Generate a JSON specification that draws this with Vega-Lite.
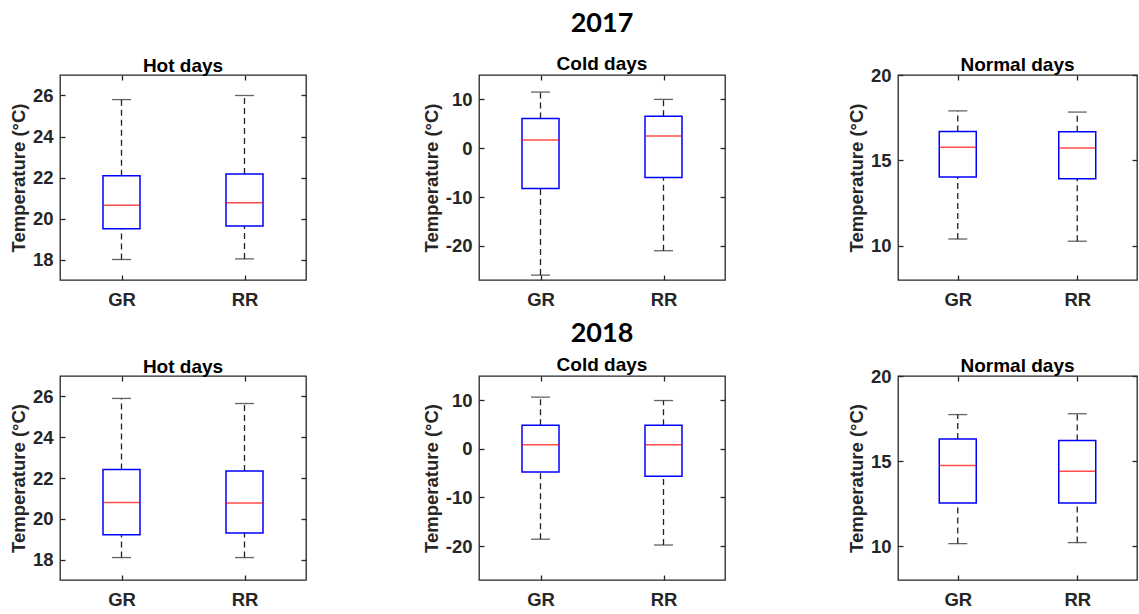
{
  "$schema": "https://vega.github.io/schema/vega-lite/v6.json",
  "padding": {"left": 8, "top": 9, "right": 0, "bottom": 0},
  "background": "white",
  "datasets": {
    "box": [
      {"year": "2017", "cat": "Hot days", "site": "GR", "lo": 18.0, "q1": 19.5, "med": 20.65, "q3": 22.08, "hi": 25.8},
      {"year": "2017", "cat": "Hot days", "site": "RR", "lo": 18.03, "q1": 19.63, "med": 20.77, "q3": 22.17, "hi": 26.0},
      {"year": "2017", "cat": "Cold days", "site": "GR", "lo": -26.0, "q1": -8.25, "med": 1.7, "q3": 6.1, "hi": 11.5},
      {"year": "2017", "cat": "Cold days", "site": "RR", "lo": -21.0, "q1": -6.0, "med": 2.5, "q3": 6.55, "hi": 10.0},
      {"year": "2017", "cat": "Normal days", "site": "GR", "lo": 10.4, "q1": 14.03, "med": 15.77, "q3": 16.7, "hi": 17.9},
      {"year": "2017", "cat": "Normal days", "site": "RR", "lo": 10.27, "q1": 13.93, "med": 15.72, "q3": 16.68, "hi": 17.83},
      {"year": "2018", "cat": "Hot days", "site": "GR", "lo": 18.1, "q1": 19.22, "med": 20.8, "q3": 22.42, "hi": 25.9},
      {"year": "2018", "cat": "Hot days", "site": "RR", "lo": 18.1, "q1": 19.3, "med": 20.77, "q3": 22.34, "hi": 25.65},
      {"year": "2018", "cat": "Cold days", "site": "GR", "lo": -18.6, "q1": -4.75, "med": 0.85, "q3": 4.85, "hi": 10.65},
      {"year": "2018", "cat": "Cold days", "site": "RR", "lo": -19.8, "q1": -5.65, "med": 0.85, "q3": 4.85, "hi": 9.95},
      {"year": "2018", "cat": "Normal days", "site": "GR", "lo": 10.14, "q1": 12.53, "med": 14.74, "q3": 16.3, "hi": 17.73},
      {"year": "2018", "cat": "Normal days", "site": "RR", "lo": 10.2, "q1": 12.53, "med": 14.4, "q3": 16.2, "hi": 17.78}
    ]
  },
  "config": {
    "view": {"stroke": "#262626", "strokeWidth": 1.3},
    "axis": {
      "domain": false, "grid": false, "tickSize": -5, "tickColor": "#262626", "tickWidth": 1.3,
      "labelFont": "Liberation Sans", "labelFontSize": 18.5, "labelFontWeight": "bold", "labelColor": "#262626", "labelPadding": 12,
      "titleFont": "Liberation Sans", "titleFontSize": 18.5, "titleFontWeight": "bold", "titleColor": "#262626", "titlePadding": 4
    },
    "axisX": {"labelPadding": 15},
    "title": {"font": "Liberation Sans", "fontSize": 19, "fontWeight": "bold", "color": "#000000", "offset": -1.5, "anchor": "middle"}
  },
  "spacing": 9,
  "vconcat": [
    {
      "bounds": "flush",
      "spacing": 173,
      "hconcat": [
        {
          "width": 246, "height": 205,
          "data": {"name": "box"},
          "transform": [{"filter": "datum.year == '2017' && datum.cat == 'Hot days'"}],
          "title": {"text": "Hot days"},
          "encoding": {"x": {"field": "site", "type": "nominal", "scale": {"type": "point", "domain": ["GR", "RR"], "padding": 0.5}, "axis": null}},
          "layer": [
            {"mark": {"type": "rule", "strokeDash": [6, 4], "strokeWidth": 1.3, "color": "#222222"}, "encoding": {"y": {"field": "q3", "type": "quantitative", "scale": {"domain": [17, 27], "nice": false, "zero": false}, "axis": null}, "y2": {"field": "hi"}}},
            {"mark": {"type": "rule", "strokeDash": [6, 4], "strokeWidth": 1.3, "color": "#222222"}, "encoding": {"y": {"field": "lo", "type": "quantitative", "axis": null}, "y2": {"field": "q1"}}},
            {"mark": {"type": "tick", "size": 19, "thickness": 1.3, "color": "#222222"}, "encoding": {"y": {"field": "hi", "type": "quantitative", "axis": null}}},
            {"mark": {"type": "tick", "size": 19, "thickness": 1.3, "color": "#222222"}, "encoding": {"y": {"field": "lo", "type": "quantitative", "axis": null}}},
            {"mark": {"type": "bar", "size": 37, "fill": "transparent", "stroke": "#0000FF", "strokeWidth": 1.5}, "encoding": {
              "x": {"field": "site", "type": "nominal", "axis": {"title": null, "labelAngle": 0, "orient": "bottom"}},
              "y": {"field": "q1", "type": "quantitative", "axis": {"title": "Temperature (°C)", "values": [18, 20, 22, 24, 26], "orient": "left"}}, "y2": {"field": "q3"}}},
            {"mark": {"type": "tick", "size": 37, "thickness": 1.5, "color": "#FF0000"}, "encoding": {
              "x": {"field": "site", "type": "nominal", "axis": {"title": null, "labels": false, "orient": "top"}},
              "y": {"field": "med", "type": "quantitative", "axis": {"title": null, "labels": false, "values": [18, 20, 22, 24, 26], "orient": "right"}}}}
          ],
          "resolve": {"axis": {"x": "independent", "y": "independent"}}
        },
        {
          "width": 246, "height": 205,
          "data": {"name": "box"},
          "transform": [{"filter": "datum.year == '2017' && datum.cat == 'Cold days'"}],
          "title": {"text": "2017", "subtitle": "Cold days", "offset": -1, "font": "Lato", "fontSize": 27, "fontWeight": "bold", "subtitleFont": "Liberation Sans", "subtitleFontSize": 19, "subtitleFontWeight": "bold", "subtitleColor": "#000000", "subtitlePadding": 17},
          "encoding": {"x": {"field": "site", "type": "nominal", "scale": {"type": "point", "domain": ["GR", "RR"], "padding": 0.5}, "axis": null}},
          "layer": [
            {"mark": {"type": "rule", "strokeDash": [6, 4], "strokeWidth": 1.3, "color": "#222222"}, "encoding": {"y": {"field": "q3", "type": "quantitative", "scale": {"domain": [-27, 15], "nice": false, "zero": false}, "axis": null}, "y2": {"field": "hi"}}},
            {"mark": {"type": "rule", "strokeDash": [6, 4], "strokeWidth": 1.3, "color": "#222222"}, "encoding": {"y": {"field": "lo", "type": "quantitative", "axis": null}, "y2": {"field": "q1"}}},
            {"mark": {"type": "tick", "size": 19, "thickness": 1.3, "color": "#222222"}, "encoding": {"y": {"field": "hi", "type": "quantitative", "axis": null}}},
            {"mark": {"type": "tick", "size": 19, "thickness": 1.3, "color": "#222222"}, "encoding": {"y": {"field": "lo", "type": "quantitative", "axis": null}}},
            {"mark": {"type": "bar", "size": 37, "fill": "transparent", "stroke": "#0000FF", "strokeWidth": 1.5}, "encoding": {
              "x": {"field": "site", "type": "nominal", "axis": {"title": null, "labelAngle": 0, "orient": "bottom"}},
              "y": {"field": "q1", "type": "quantitative", "axis": {"title": "Temperature (°C)", "values": [-20, -10, 0, 10], "orient": "left", "labelExpr": "replace(datum.label, '−', '-')"}}, "y2": {"field": "q3"}}},
            {"mark": {"type": "tick", "size": 37, "thickness": 1.5, "color": "#FF0000"}, "encoding": {
              "x": {"field": "site", "type": "nominal", "axis": {"title": null, "labels": false, "orient": "top"}},
              "y": {"field": "med", "type": "quantitative", "axis": {"title": null, "labels": false, "values": [-20, -10, 0, 10], "orient": "right"}}}}
          ],
          "resolve": {"axis": {"x": "independent", "y": "independent"}}
        },
        {
          "width": 239, "height": 205,
          "data": {"name": "box"},
          "transform": [{"filter": "datum.year == '2017' && datum.cat == 'Normal days'"}],
          "title": {"text": "Normal days", "offset": -8.5},
          "encoding": {"x": {"field": "site", "type": "nominal", "scale": {"type": "point", "domain": ["GR", "RR"], "padding": 0.5}, "axis": null}},
          "layer": [
            {"mark": {"type": "rule", "strokeDash": [6, 4], "strokeWidth": 1.3, "color": "#222222"}, "encoding": {"y": {"field": "q3", "type": "quantitative", "scale": {"domain": [8, 20], "nice": false, "zero": false}, "axis": null}, "y2": {"field": "hi"}}},
            {"mark": {"type": "rule", "strokeDash": [6, 4], "strokeWidth": 1.3, "color": "#222222"}, "encoding": {"y": {"field": "lo", "type": "quantitative", "axis": null}, "y2": {"field": "q1"}}},
            {"mark": {"type": "tick", "size": 19, "thickness": 1.3, "color": "#222222"}, "encoding": {"y": {"field": "hi", "type": "quantitative", "axis": null}}},
            {"mark": {"type": "tick", "size": 19, "thickness": 1.3, "color": "#222222"}, "encoding": {"y": {"field": "lo", "type": "quantitative", "axis": null}}},
            {"mark": {"type": "bar", "size": 37, "fill": "transparent", "stroke": "#0000FF", "strokeWidth": 1.5}, "encoding": {
              "x": {"field": "site", "type": "nominal", "axis": {"title": null, "labelAngle": 0, "orient": "bottom"}},
              "y": {"field": "q1", "type": "quantitative", "axis": {"title": "Temperature (°C)", "values": [10, 15, 20], "orient": "left"}}, "y2": {"field": "q3"}}},
            {"mark": {"type": "tick", "size": 37, "thickness": 1.5, "color": "#FF0000"}, "encoding": {
              "x": {"field": "site", "type": "nominal", "axis": {"title": null, "labels": false, "orient": "top"}},
              "y": {"field": "med", "type": "quantitative", "axis": {"title": null, "labels": false, "values": [10, 15, 20], "orient": "right"}}}}
          ],
          "resolve": {"axis": {"x": "independent", "y": "independent"}}
        }
      ]
    },
    {
      "bounds": "flush",
      "spacing": 173,
      "hconcat": [
        {
          "width": 246, "height": 204,
          "data": {"name": "box"},
          "transform": [{"filter": "datum.year == '2018' && datum.cat == 'Hot days'"}],
          "title": {"text": "Hot days"},
          "encoding": {"x": {"field": "site", "type": "nominal", "scale": {"type": "point", "domain": ["GR", "RR"], "padding": 0.5}, "axis": null}},
          "layer": [
            {"mark": {"type": "rule", "strokeDash": [6, 4], "strokeWidth": 1.3, "color": "#222222"}, "encoding": {"y": {"field": "q3", "type": "quantitative", "scale": {"domain": [17, 27], "nice": false, "zero": false}, "axis": null}, "y2": {"field": "hi"}}},
            {"mark": {"type": "rule", "strokeDash": [6, 4], "strokeWidth": 1.3, "color": "#222222"}, "encoding": {"y": {"field": "lo", "type": "quantitative", "axis": null}, "y2": {"field": "q1"}}},
            {"mark": {"type": "tick", "size": 19, "thickness": 1.3, "color": "#222222"}, "encoding": {"y": {"field": "hi", "type": "quantitative", "axis": null}}},
            {"mark": {"type": "tick", "size": 19, "thickness": 1.3, "color": "#222222"}, "encoding": {"y": {"field": "lo", "type": "quantitative", "axis": null}}},
            {"mark": {"type": "bar", "size": 37, "fill": "transparent", "stroke": "#0000FF", "strokeWidth": 1.5}, "encoding": {
              "x": {"field": "site", "type": "nominal", "axis": {"title": null, "labelAngle": 0, "orient": "bottom"}},
              "y": {"field": "q1", "type": "quantitative", "axis": {"title": "Temperature (°C)", "values": [18, 20, 22, 24, 26], "orient": "left"}}, "y2": {"field": "q3"}}},
            {"mark": {"type": "tick", "size": 37, "thickness": 1.5, "color": "#FF0000"}, "encoding": {
              "x": {"field": "site", "type": "nominal", "axis": {"title": null, "labels": false, "orient": "top"}},
              "y": {"field": "med", "type": "quantitative", "axis": {"title": null, "labels": false, "values": [18, 20, 22, 24, 26], "orient": "right"}}}}
          ],
          "resolve": {"axis": {"x": "independent", "y": "independent"}}
        },
        {
          "width": 246, "height": 204,
          "data": {"name": "box"},
          "transform": [{"filter": "datum.year == '2018' && datum.cat == 'Cold days'"}],
          "title": {"text": "2018", "subtitle": "Cold days", "offset": -1, "font": "Lato", "fontSize": 27, "fontWeight": "bold", "subtitleFont": "Liberation Sans", "subtitleFontSize": 19, "subtitleFontWeight": "bold", "subtitleColor": "#000000", "subtitlePadding": 8},
          "encoding": {"x": {"field": "site", "type": "nominal", "scale": {"type": "point", "domain": ["GR", "RR"], "padding": 0.5}, "axis": null}},
          "layer": [
            {"mark": {"type": "rule", "strokeDash": [6, 4], "strokeWidth": 1.3, "color": "#222222"}, "encoding": {"y": {"field": "q3", "type": "quantitative", "scale": {"domain": [-27, 15], "nice": false, "zero": false}, "axis": null}, "y2": {"field": "hi"}}},
            {"mark": {"type": "rule", "strokeDash": [6, 4], "strokeWidth": 1.3, "color": "#222222"}, "encoding": {"y": {"field": "lo", "type": "quantitative", "axis": null}, "y2": {"field": "q1"}}},
            {"mark": {"type": "tick", "size": 19, "thickness": 1.3, "color": "#222222"}, "encoding": {"y": {"field": "hi", "type": "quantitative", "axis": null}}},
            {"mark": {"type": "tick", "size": 19, "thickness": 1.3, "color": "#222222"}, "encoding": {"y": {"field": "lo", "type": "quantitative", "axis": null}}},
            {"mark": {"type": "bar", "size": 37, "fill": "transparent", "stroke": "#0000FF", "strokeWidth": 1.5}, "encoding": {
              "x": {"field": "site", "type": "nominal", "axis": {"title": null, "labelAngle": 0, "orient": "bottom"}},
              "y": {"field": "q1", "type": "quantitative", "axis": {"title": "Temperature (°C)", "values": [-20, -10, 0, 10], "orient": "left", "labelExpr": "replace(datum.label, '−', '-')"}}, "y2": {"field": "q3"}}},
            {"mark": {"type": "tick", "size": 37, "thickness": 1.5, "color": "#FF0000"}, "encoding": {
              "x": {"field": "site", "type": "nominal", "axis": {"title": null, "labels": false, "orient": "top"}},
              "y": {"field": "med", "type": "quantitative", "axis": {"title": null, "labels": false, "values": [-20, -10, 0, 10], "orient": "right"}}}}
          ],
          "resolve": {"axis": {"x": "independent", "y": "independent"}}
        },
        {
          "width": 239, "height": 204,
          "data": {"name": "box"},
          "transform": [{"filter": "datum.year == '2018' && datum.cat == 'Normal days'"}],
          "title": {"text": "Normal days", "offset": -8.5},
          "encoding": {"x": {"field": "site", "type": "nominal", "scale": {"type": "point", "domain": ["GR", "RR"], "padding": 0.5}, "axis": null}},
          "layer": [
            {"mark": {"type": "rule", "strokeDash": [6, 4], "strokeWidth": 1.3, "color": "#222222"}, "encoding": {"y": {"field": "q3", "type": "quantitative", "scale": {"domain": [8, 20], "nice": false, "zero": false}, "axis": null}, "y2": {"field": "hi"}}},
            {"mark": {"type": "rule", "strokeDash": [6, 4], "strokeWidth": 1.3, "color": "#222222"}, "encoding": {"y": {"field": "lo", "type": "quantitative", "axis": null}, "y2": {"field": "q1"}}},
            {"mark": {"type": "tick", "size": 19, "thickness": 1.3, "color": "#222222"}, "encoding": {"y": {"field": "hi", "type": "quantitative", "axis": null}}},
            {"mark": {"type": "tick", "size": 19, "thickness": 1.3, "color": "#222222"}, "encoding": {"y": {"field": "lo", "type": "quantitative", "axis": null}}},
            {"mark": {"type": "bar", "size": 37, "fill": "transparent", "stroke": "#0000FF", "strokeWidth": 1.5}, "encoding": {
              "x": {"field": "site", "type": "nominal", "axis": {"title": null, "labelAngle": 0, "orient": "bottom"}},
              "y": {"field": "q1", "type": "quantitative", "axis": {"title": "Temperature (°C)", "values": [10, 15, 20], "orient": "left"}}, "y2": {"field": "q3"}}},
            {"mark": {"type": "tick", "size": 37, "thickness": 1.5, "color": "#FF0000"}, "encoding": {
              "x": {"field": "site", "type": "nominal", "axis": {"title": null, "labels": false, "orient": "top"}},
              "y": {"field": "med", "type": "quantitative", "axis": {"title": null, "labels": false, "values": [10, 15, 20], "orient": "right"}}}}
          ],
          "resolve": {"axis": {"x": "independent", "y": "independent"}}
        }
      ]
    }
  ]
}
